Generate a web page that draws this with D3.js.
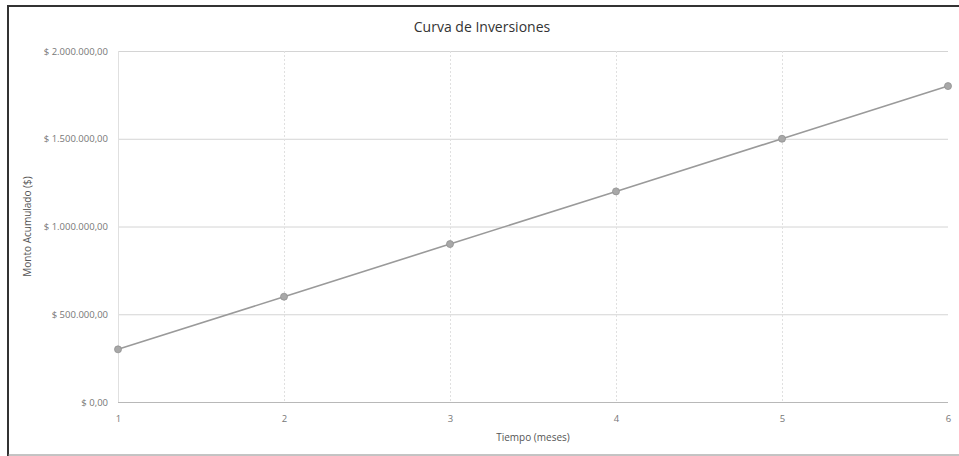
<!DOCTYPE html>
<html>
<head>
<meta charset="utf-8">
<script src="https://cdn.jsdelivr.net/npm/d3@7"></script>
<style>
  html, body { margin: 0; padding: 0; background: #fff; }
  svg { display: block; }
</style>
</head>
<body>
<svg id="chart" width="959" height="456"></svg>
<script>
const months = [1, 2, 3, 4, 5, 6];
const montos = [300000, 600000, 900000, 1200000, 1500000, 1800000];
const yTicks = [0, 500000, 1000000, 1500000, 2000000];
const title = "Curva de Inversiones";
const xTitle = "Tiempo (meses)";
const yTitle = "Monto Acumulado ($)";

const W = 959, H = 456;
const margin = { left: 118, right: 11, top: 51, bottom: 54 };
const svg = d3.select("#chart");

const locale = d3.formatLocale({ decimal: ",", thousands: ".", grouping: [3], currency: ["$ ", ""] });
const fmt = locale.format("$,.2f");

const x = d3.scaleLinear().domain([1, 6]).range([margin.left, W - margin.right]);
const y = d3.scaleLinear().domain([0, 2000000]).range([H - margin.bottom, margin.top]);

const font = "'Open Sans', 'Liberation Sans', sans-serif";

// frame
svg.append("path")
  .attr("d", `M8,456 L8,6 L959,6`)
  .attr("fill", "none").attr("stroke", "#333").attr("stroke-width", 2);
svg.append("line").attr("x1", 8).attr("x2", 959).attr("y1", 455).attr("y2", 455)
  .attr("stroke", "#888").attr("stroke-width", 1);

// horizontal gridlines
svg.append("g").selectAll("line").data(yTicks).join("line")
  .attr("x1", margin.left).attr("x2", W - margin.right)
  .attr("y1", d => y(d) + 0.5).attr("y2", d => y(d) + 0.5)
  .attr("stroke", d => d === 0 ? "#b8b8b8" : "#d4d4d4").attr("stroke-width", 1);

// vertical gridlines
svg.append("g").selectAll("line").data(months.slice(1, -1)).join("line")
  .attr("x1", d => x(d) + 0.5).attr("x2", d => x(d) + 0.5)
  .attr("y1", margin.top).attr("y2", H - margin.bottom)
  .attr("stroke", "#e0e0e0").attr("stroke-width", 1).attr("stroke-dasharray", "2,2");
svg.append("line")
  .attr("x1", x(1) + 0.5).attr("x2", x(1) + 0.5)
  .attr("y1", margin.top).attr("y2", H - margin.bottom)
  .attr("stroke", "#e0e0e0").attr("stroke-width", 1);

// y axis labels
const yAxis = d3.axisLeft(y).tickValues(yTicks).tickFormat(fmt).tickSize(0).tickPadding(10);
const gy = svg.append("g").attr("transform", `translate(${margin.left},0)`).call(yAxis);
gy.select(".domain").remove();
gy.selectAll("text").attr("font-family", font).attr("font-size", 9.5).attr("fill", "#777");

// x axis labels
const xAxis = d3.axisBottom(x).tickValues(months).tickFormat(d3.format("d")).tickSize(0).tickPadding(13);
const gx = svg.append("g").attr("transform", `translate(0,${H - margin.bottom})`).call(xAxis);
gx.select(".domain").remove();
gx.selectAll("text").attr("font-family", font).attr("font-size", 9.5).attr("fill", "#777");

// line
const data = months.map((m, i) => ({ m, v: montos[i] }));
svg.append("path").datum(data)
  .attr("d", d3.line().x(d => x(d.m)).y(d => y(d.v)))
  .attr("fill", "none").attr("stroke", "#9a9a9a").attr("stroke-width", 1.6);
svg.append("g").selectAll("circle").data(data).join("circle")
  .attr("cx", d => x(d.m)).attr("cy", d => y(d.v)).attr("r", 3.5)
  .attr("fill", "#a8a8a8").attr("stroke", "#909090").attr("stroke-width", 0.8);

// titles
svg.append("text").attr("x", 482).attr("y", 32).attr("text-anchor", "middle")
  .attr("font-family", font).attr("font-size", 14).attr("fill", "#333").text(title);
svg.append("text").attr("x", (margin.left + W - margin.right) / 2).attr("y", 441).attr("text-anchor", "middle")
  .attr("font-family", font).attr("font-size", 10).attr("fill", "#555").text(xTitle);
svg.append("text").attr("transform", `translate(31,${(margin.top + H - margin.bottom) / 2}) rotate(-90)`)
  .attr("text-anchor", "middle")
  .attr("font-family", font).attr("font-size", 10).attr("fill", "#555").text(yTitle);
</script>
</body>
</html>
